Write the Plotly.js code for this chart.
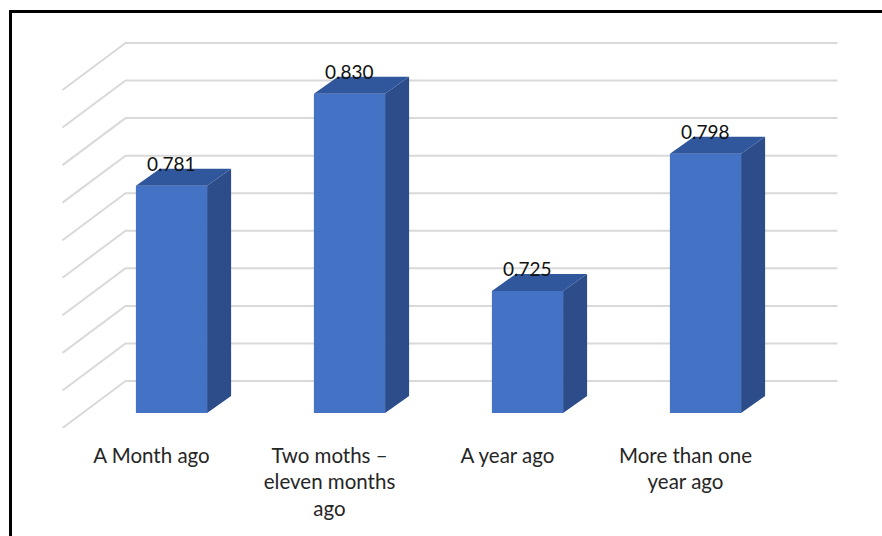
<!DOCTYPE html>
<html>
<head>
<meta charset="utf-8">
<script src="https://cdn.plot.ly/plotly-3.0.1.min.js"></script>
<style>
  html, body { margin: 0; padding: 0; background: #ffffff; overflow: hidden; }
  #wrap { position: relative; width: 882px; height: 536px; overflow: hidden; }
  #chart { position: absolute; left: 0; top: 0; width: 882px; height: 536px; }
  #frame { position: absolute; left: 9px; top: 10px; width: 2000px; height: 2000px;
           border: 3px solid #000; box-sizing: border-box; pointer-events: none; }
</style>
</head>
<body>
<div id="wrap">
  <div id="chart"></div>
  <div id="frame"></div>
</div>
<script>
// ---- data ----
const categories = ["A Month ago", "Two moths –<br>eleven months<br>ago", "A year ago", "More than one<br>year ago"];
const values = [0.781, 0.830, 0.725, 0.798];
const valueLabels = ["0.781", "0.830", "0.725", "0.798"];
const gridVals = [0.66, 0.68, 0.70, 0.72, 0.74, 0.76, 0.78, 0.80, 0.82, 0.84];
const axisBase = 0.66;

// ---- geometry / style (pixels converted to data units) ----
const W = 882, H = 536, MB = 108;
const PX_X = 178;      // pixels per category step
const PX_Y = 1878;     // pixels per value unit
const firstCenterPx = 171.5;
const barWidth = 0.4;
const barDepth = [24 / PX_X, 17 / PX_Y];     // oblique depth of each bar
const floorFront = [-20 / PX_X, -15 / PX_Y]; // floor front edge relative to bar fronts
const backWall = [43 / PX_X, 32 / PX_Y];     // back wall relative to bar fronts

const xRange = [-firstCenterPx / PX_X, (W - firstCenterPx) / PX_X];
const yMin = axisBase + floorFront[1];
const yRange = [yMin, yMin + (H - MB) / PX_Y];

const n = values.length;
const idx = values.map((v, i) => i);

// gridlines: side wall diagonal + back wall horizontal
const gx = [], gy = [];
gridVals.forEach(g => {
  gx.push(-0.5 + floorFront[0], -0.5 + backWall[0], (n - 0.5) + backWall[0], null);
  gy.push(g + floorFront[1], g + backWall[1], g + backWall[1], null);
});

// side and top faces of the bars
const sx = [], sy = [], tx = [], ty = [];
values.forEach((v, i) => {
  const r = i + barWidth / 2, l = i - barWidth / 2;
  sx.push(r, r + barDepth[0], r + barDepth[0], r, null);
  sy.push(axisBase, axisBase + barDepth[1], v + barDepth[1], v, null);
  tx.push(l, r, r + barDepth[0], l + barDepth[0], null);
  ty.push(v, v, v + barDepth[1], v + barDepth[1], null);
});

const traces = [
  { type: "scatter", mode: "lines", x: gx, y: gy, xaxis: "x", yaxis: "y",
    line: { color: "#d9d9d9", width: 2 }, hoverinfo: "skip", showlegend: false },
  { type: "bar", x: idx, y: values.map(v => v - axisBase), base: axisBase, width: barWidth,
    xaxis: "x2", yaxis: "y2",
    marker: { color: "#4472C4", line: { width: 0 } }, showlegend: false },
  { type: "scatter", mode: "none", x: sx, y: sy, fill: "toself", fillcolor: "#2C4D8A",
    xaxis: "x2", yaxis: "y2", hoverinfo: "skip", showlegend: false },
  { type: "scatter", mode: "none", x: tx, y: ty, fill: "toself", fillcolor: "#30579C",
    xaxis: "x2", yaxis: "y2", hoverinfo: "skip", showlegend: false }
];

const annotations = values.map((v, i) => ({
  x: i, y: v + barDepth[1], xref: "x2", yref: "y2", text: valueLabels[i],
  showarrow: false, yanchor: "middle", xanchor: "center", yshift: 5,
  font: { family: "Lato, 'Open Sans', sans-serif", size: 19, color: "#111111" }
}));

const layout = {
  width: W, height: H,
  margin: { l: 0, r: 0, t: 0, b: MB, pad: 0 },
  paper_bgcolor: "#ffffff", plot_bgcolor: "rgba(0,0,0,0)",
  showlegend: false,
  xaxis: { range: xRange, tickmode: "array", tickvals: idx.map(i => i + floorFront[0]),
           ticktext: categories, ticks: "", showgrid: false, zeroline: false, showline: false,
           tickfont: { family: "Lato, 'Open Sans', sans-serif", size: 20.5, color: "#262626" },
           ticklabelstandoff: 13, fixedrange: true },
  yaxis: { range: yRange, visible: false, fixedrange: true },
  xaxis2: { range: xRange, overlaying: "x", visible: false, fixedrange: true },
  yaxis2: { range: yRange, overlaying: "y", visible: false, fixedrange: true },
  annotations: annotations
};

Plotly.newPlot("chart", traces, layout, { staticPlot: true, displayModeBar: false });
</script>
</body>
</html>
